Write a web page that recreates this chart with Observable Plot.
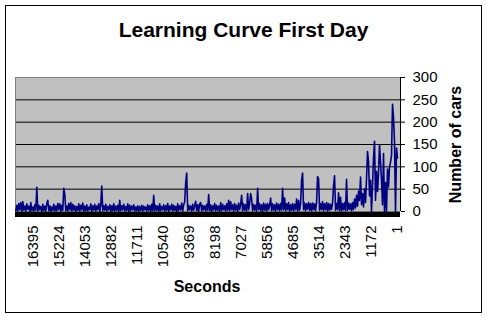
<!DOCTYPE html>
<html><head><meta charset="utf-8">
<script src="https://cdn.jsdelivr.net/npm/d3@7"></script>
<script src="https://cdn.jsdelivr.net/npm/@observablehq/plot@0.6"></script>
<style>
html,body{margin:0;padding:0;background:#fff;}
#chart{position:relative;width:487px;height:317px;}
</style></head><body><div id="chart"></div>
<script>
const chartTitle = "Learning Curve First Day";
const xLabel = "Seconds";
const yLabel = "Number of cars";
const xTickLabels = [16395, 15224, 14053, 12882, 11711, 10540, 9369, 8198, 7027, 5856, 4685, 3514, 2343, 1172, 1];
const yTickValues = [0, 50, 100, 150, 200, 250, 300];
// number of cars, one reading every 45 seconds, from second 17191 down to second 1
const cars = [
  2, 14, 1, 18, 4, 20, 0, 22, 3, 12,
  1, 17, 5, 12, 0, 20, 2, 10, 1, 15,
  3, 54, 1, 14, 4, 11, 0, 16, 2, 12,
  1, 18, 25, 2, 13, 0, 10, 3, 16, 1,
  12, 2, 18, 4, 17, 0, 14, 3, 52, 38,
  2, 12, 1, 18, 4, 20, 1, 16, 3, 13,
  0, 11, 3, 17, 1, 14, 4, 19, 0, 12,
  2, 15, 1, 10, 4, 17, 0, 13, 3, 16,
  1, 12, 4, 18, 0, 14, 57, 2, 13, 3,
  16, 1, 11, 4, 15, 0, 13, 2, 17, 1,
  12, 3, 14, 0, 25, 2, 13, 4, 16, 1,
  11, 3, 17, 0, 14, 2, 12, 4, 15, 1,
  10, 2, 13, 0, 11, 3, 14, 1, 12, 4,
  10, 1, 15, 3, 13, 0, 16, 2, 36, 1,
  14, 3, 12, 0, 17, 2, 11, 4, 15, 1,
  13, 3, 18, 0, 12, 4, 16, 1, 14, 3,
  11, 0, 17, 2, 13, 4, 19, 1, 15, 22,
  65, 86, 2, 14, 4, 12, 1, 16, 3, 13,
  23, 2, 15, 0, 17, 20, 1, 14, 4, 12,
  1, 16, 3, 38, 2, 15, 0, 13, 4, 18,
  1, 14, 3, 12, 0, 20, 2, 16, 4, 13,
  1, 17, 3, 25, 2, 22, 4, 15, 1, 18,
  3, 14, 0, 19, 4, 16, 36, 2, 17, 3,
  15, 1, 40, 4, 18, 40, 28, 2, 16, 3,
  14, 1, 52, 4, 17, 2, 15, 0, 19, 3,
  16, 1, 18, 4, 14, 30, 2, 17, 3, 15,
  1, 19, 4, 16, 2, 18, 3, 52, 4, 30,
  2, 17, 4, 20, 1, 15, 3, 18, 2, 16,
  4, 28, 1, 25, 3, 18, 69, 86, 4, 19,
  2, 17, 5, 20, 3, 18, 1, 19, 4, 17,
  2, 20, 78, 73, 3, 18, 4, 22, 2, 17,
  4, 20, 1, 18, 3, 16, 5, 19, 58, 80,
  3, 18, 4, 42, 2, 32, 1, 18, 4, 20,
  2, 72, 3, 19, 5, 17, 2, 20, 4, 28,
  8, 36, 12, 45, 25, 77, 15, 40, 10, 50,
  20, 73, 134, 112, 35, 70, 0, 60, 120, 157,
  25, 90, 45, 87, 149, 110, 70, 15, 130, 0,
  65, 0, 95, 55, 100, 110, 125, 240, 211, 157,
  0, 142, 120
];
const seconds = cars.map((_, i) => 17191 - 45 * i);
const data = cars.map((v, i) => ({t: seconds[i], v}));

const font = "'Liberation Sans', Arial, sans-serif";

const plot = Plot.plot({
  width: 487, height: 317,
  marginLeft: 15, marginRight: 87, marginTop: 77, marginBottom: 106,
  style: {background: "#fff", fontFamily: font, fontSize: "15px", color: "#000", overflow: "visible"},
  x: {domain: [17206, -134], axis: null},
  y: {domain: [0, 300], axis: null},
  marks: [
    Plot.frame({fill: "#c0c0c0", stroke: null}),
    Plot.ruleY(yTickValues.filter(d => d > 0 && d < 300), {stroke: "#000"}),
    Plot.ruleY([300], {stroke: "#808080"}),
    Plot.ruleX([17206], {stroke: "#808080"}),
    Plot.lineY(data, {x: "t", y: "v", stroke: "#000080", strokeWidth: 1.6}),
    Plot.ruleY([0], {stroke: "#000", strokeWidth: 5.5, dy: 2.75}),
    Plot.ruleX([-134], {stroke: "#000"}),
    Plot.axisY(yTickValues, {anchor: "right", tickSize: 4, tickPadding: 8, fontSize: 15, label: null}),
    Plot.text(xTickLabels, {x: d => d, text: d => String(d), frameAnchor: "bottom", rotate: -90, textAnchor: "end", lineAnchor: "middle", dy: 14, fontSize: 15})
  ]
});

const svg = d3.select(plot);
svg.append("rect").attr("x", 5.5).attr("y", 5.5).attr("width", 476).attr("height", 307)
  .attr("fill", "none").attr("stroke", "#000");
svg.append("text").attr("x", 243.5).attr("y", 37).attr("text-anchor", "middle")
  .attr("font-weight", "bold").attr("font-size", 21).attr("font-family", font).attr("fill", "#000").text(chartTitle);
svg.append("text").attr("x", 207).attr("y", 292).attr("text-anchor", "middle")
  .attr("font-weight", "bold").attr("font-size", 16).attr("font-family", font).attr("fill", "#000").text(xLabel);
svg.append("text").attr("transform", "translate(460.5,144.5) rotate(-90)").attr("text-anchor", "middle")
  .attr("font-weight", "bold").attr("font-size", 16).attr("font-family", font).attr("fill", "#000").text(yLabel);

document.getElementById("chart").appendChild(plot);
</script></body></html>
